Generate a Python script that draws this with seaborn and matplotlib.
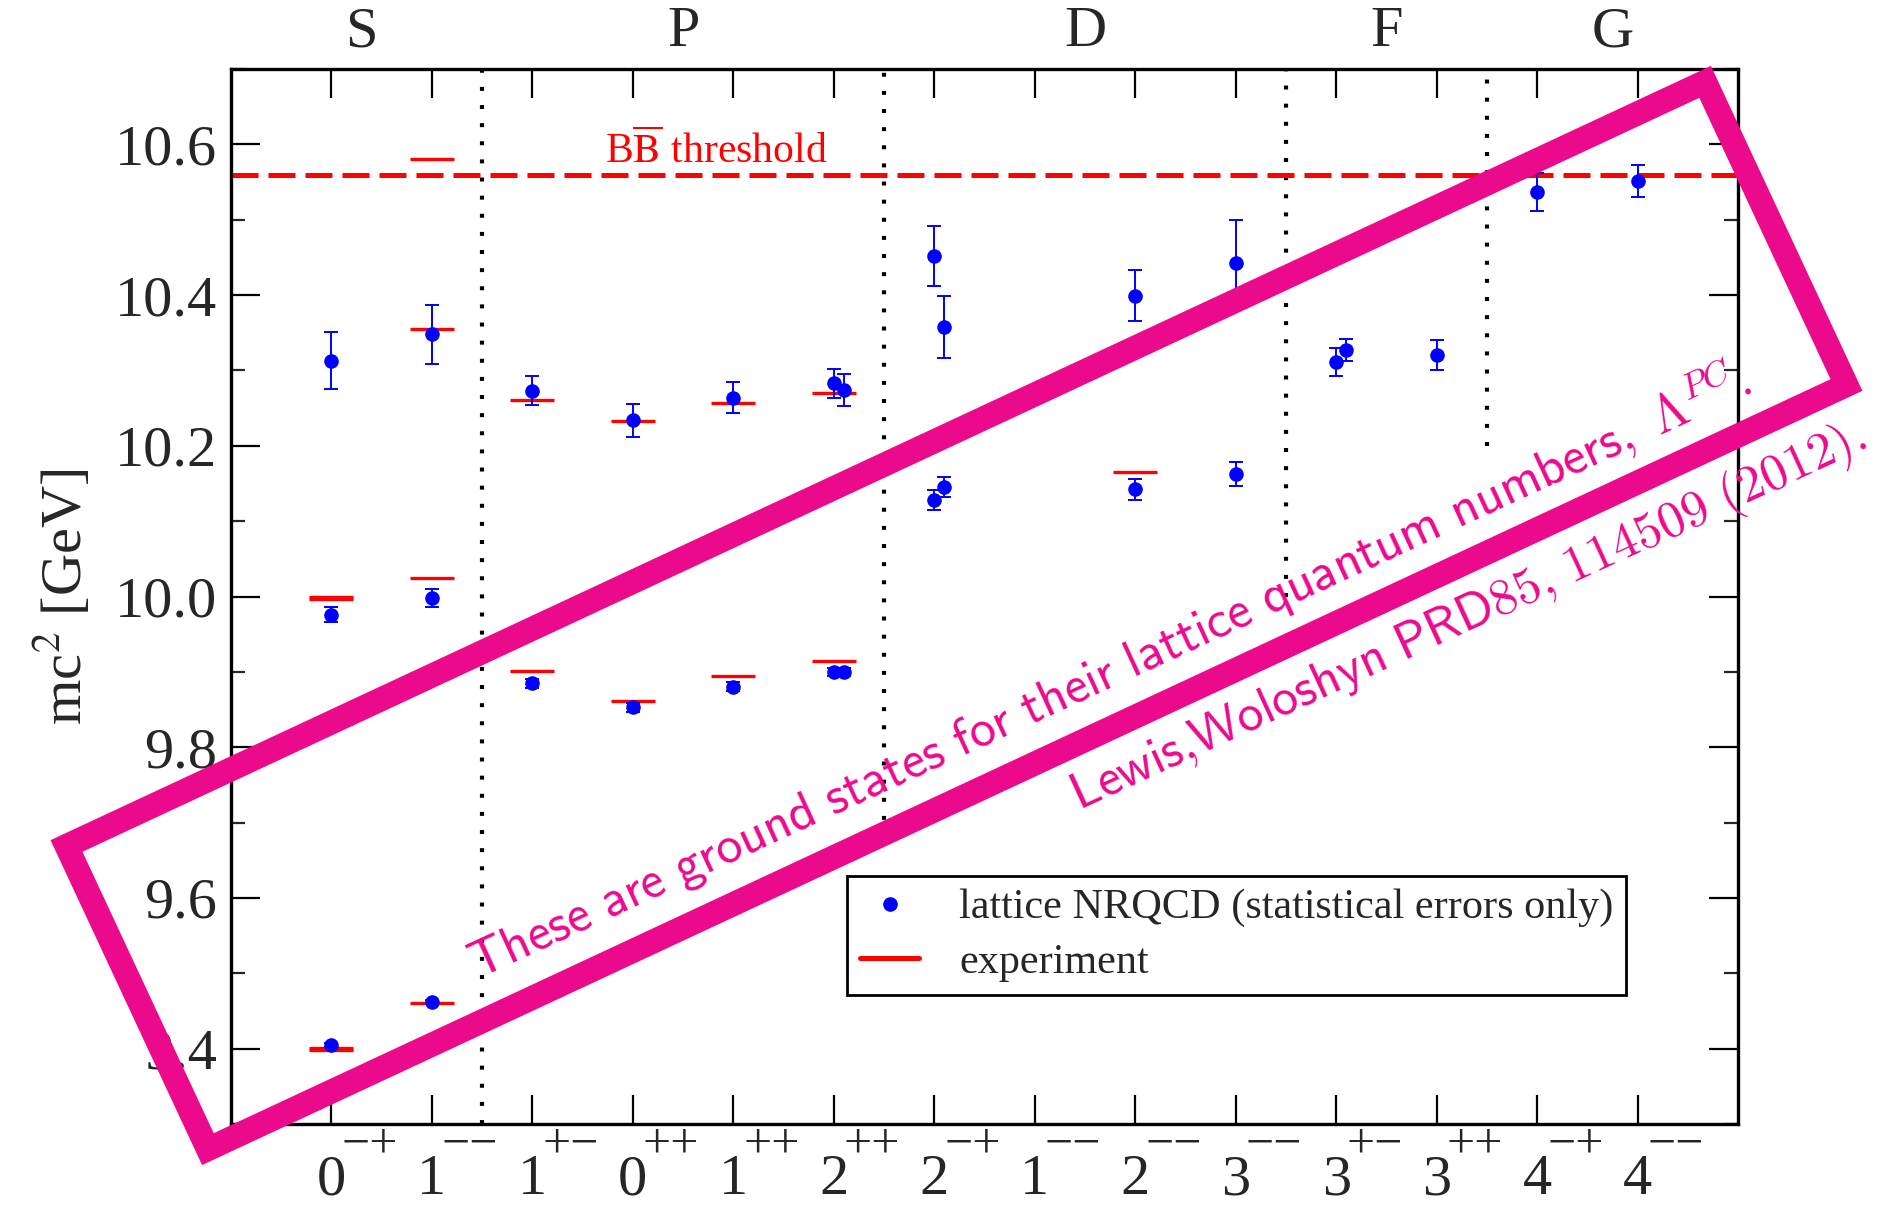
import numpy as np
import pandas as pd
import matplotlib
matplotlib.use('Agg')
import matplotlib.pyplot as plt
import matplotlib.patches as mpatches
import matplotlib.transforms as mtransforms
from matplotlib.lines import Line2D
from matplotlib.ticker import FixedLocator, MultipleLocator
import seaborn as sns

# ---------------- data ----------------
j_values = ['0', '1', '1', '0', '1', '2', '2', '1', '2', '3', '3', '3', '4', '4']
pc_values = ['-+', '--', '+-', '++', '++', '++', '-+', '--', '--', '--', '+-', '++', '-+', '--']
wave_labels = ['S', 'P', 'D', 'F', 'G']
wave_centers = [0.3, 3.5, 7.5, 10.5, 12.75]
wave_bounds = [1.5, 5.5, 9.5, 11.5]
wave_bound_bottom = [9.3, 9.68, 10.0, 10.2]
y_ticks = [9.4, 9.6, 9.8, 10.0, 10.2, 10.4, 10.6]

# lattice NRQCD results (category index, irrep index, mass, statistical error)
lat_cat = [0, 0, 0, 1, 1, 1, 2, 2, 3, 3, 4, 4, 5, 5, 5, 5, 6, 6, 6, 6, 8, 8, 9, 9, 10, 10, 11, 12, 13]
lat_irrep = [0, 0, 0, 0, 0, 0, 0, 0, 0, 0, 0, 0, 0, 1, 0, 1, 0, 1, 0, 1, 0, 0, 0, 0, 0, 1, 0, 0, 0]
lat_mass = [9.405, 9.976, 10.313, 9.462, 9.998, 10.348, 9.885, 10.273, 9.853, 10.234,
            9.880, 10.264, 9.900, 9.900, 10.283, 10.274, 10.128, 10.145, 10.452, 10.358,
            10.142, 10.399, 10.162, 10.443, 10.311, 10.327, 10.320, 10.537, 10.551]
lat_err = [0.003, 0.010, 0.038, 0.002, 0.012, 0.039, 0.006, 0.019, 0.006, 0.022,
           0.006, 0.020, 0.005, 0.005, 0.019, 0.021, 0.013, 0.013, 0.040, 0.041,
           0.014, 0.034, 0.016, 0.056, 0.019, 0.015, 0.020, 0.025, 0.021]

# experiment
exp_cat = [0, 0, 0, 0, 1, 1, 1, 1, 2, 2, 3, 3, 4, 4, 5, 5, 8]
exp_mass = [9.398, 9.401, 9.997, 10.000, 9.461, 10.024, 10.355, 10.580,
            9.901, 10.261, 9.861, 10.233, 9.894, 10.257, 9.914, 10.270, 10.165]

threshold = 10.559

# ---------------- style ----------------
IRREP_SHIFT = 0.1
BLUE = '#0000FF'
RED = '#FF0000'
PINK = '#EC0A8C'

sns.set_style('ticks')
plt.rcParams['font.family'] = ['Liberation Serif', 'DejaVu Serif']
plt.rcParams['mathtext.fontset'] = 'stix'

W, H = 1889, 1209
fig = plt.figure(figsize=(W / 100, H / 100), dpi=100)
fig.patch.set_facecolor('white')
ax = fig.add_axes([231 / W, 1 - 1124 / H, (1738 - 231) / W, (1124 - 69) / H])
ax.set_facecolor('white')

lat_df = pd.DataFrame({'x': np.array(lat_cat) + IRREP_SHIFT * np.array(lat_irrep),
                       'mass': lat_mass, 'err': lat_err})
exp_df = pd.DataFrame({'x': exp_cat, 'mass': exp_mass})

# wave separators
for xb, yb in zip(wave_bounds, wave_bound_bottom):
    ax.plot([xb, xb], [yb, 10.7], color='black', lw=3.0, linestyle=(0, (0.95, 3.4)),
            dash_capstyle='butt', zorder=1)

# threshold
ax.axhline(threshold, color=RED, lw=3.6, linestyle=(0, (5.4, 2.0)), zorder=2)

# experiment
sns.scatterplot(data=exp_df, x='x', y='mass', marker='_', s=31 ** 2, color=RED,
                linewidth=2.4, ax=ax, zorder=3, legend=False)

# lattice
ax.errorbar(lat_df['x'], lat_df['mass'], yerr=lat_df['err'], fmt='none', ecolor=BLUE,
            elinewidth=1.4, capsize=5, capthick=1.4, zorder=4)
sns.scatterplot(data=lat_df, x='x', y='mass', marker='o', s=10.5 ** 2, color=BLUE,
                edgecolor=BLUE, linewidth=0, ax=ax, zorder=5, legend=False)

# axes
ax.set_xlim(-1, 14)
ax.set_ylim(9.3, 10.7)
ax.set_xlabel('')
ax.xaxis.set_major_locator(FixedLocator(range(len(j_values))))
ax.set_xticklabels([''] * len(j_values))
ax.yaxis.set_major_locator(FixedLocator(y_ticks))
ax.set_yticklabels([f'{v:.1f}' for v in y_ticks])
ax.yaxis.set_minor_locator(MultipleLocator(0.1))
ax.tick_params(axis='both', which='major', direction='in', length=21, width=1.6,
               top=True, right=True, labelsize=42, color='black')
ax.tick_params(axis='y', which='major', pad=10)
ax.tick_params(axis='y', which='minor', direction='in', length=10, width=1.6,
               left=True, right=True)
for sp in ax.spines.values():
    sp.set_linewidth(2.4)
    sp.set_color('black')
    sp.set_visible(True)

trans = mtransforms.blended_transform_factory(ax.transData, ax.transAxes)

# x tick labels: J with PC superscript
for i, (j, pc) in enumerate(zip(j_values, pc_values)):
    ax.text(i, -0.0664, j, transform=trans, ha='center', va='baseline', fontsize=42)
    ax.text(i + 0.1, -0.0322, pc.replace('-', '\u2212'), transform=trans,
            ha='left', va='baseline', fontsize=36)

ax.set_ylabel(r'mc$^2$ [GeV]', fontsize=42)
ax.yaxis.set_label_coords(-0.091, 0.5)

for lab, c in zip(wave_labels, wave_centers):
    ax.text(c, 1.035, lab, transform=trans, ha='center', va='center', fontsize=42)

ax.text(3.83, 10.575, r'B$\overline{\mathrm{B}}$ threshold', color=RED, fontsize=30,
        ha='center', va='baseline', zorder=6)

handles = [Line2D([], [], marker='o', ls='none', color=BLUE, markersize=9.5),
           Line2D([], [], color=RED, lw=3.6)]
leg = ax.legend(handles, ['lattice NRQCD (statistical errors only)', 'experiment'],
                loc='upper left', bbox_to_anchor=(0.409, 0.235), fontsize=30.4,
                frameon=True, fancybox=False, edgecolor='black', framealpha=1,
                borderpad=0.3, labelspacing=0.38, handlelength=1.4, handletextpad=0.95,
                borderaxespad=0)
leg.get_frame().set_linewidth(2)
leg.set_zorder(7)

# ---------------- pink annotation ----------------
ang = np.deg2rad(25.0)
cx, cy = 956.5, 615.5          # pixel centre (top-down)
a, b = 1808 / 2, 334.5 / 2
u = np.array([np.cos(ang), -np.sin(ang)])
v = np.array([np.sin(ang), np.cos(ang)])
c = np.array([cx, cy])
corners = [c - a * u - b * v, c + a * u - b * v, c + a * u + b * v, c - a * u + b * v]
pts = [(p[0] / W, 1 - p[1] / H) for p in corners]
box = mpatches.Polygon(pts, closed=True, fill=False, edgecolor=PINK, linewidth=17.3,
                       joinstyle='miter', transform=fig.transFigure, zorder=10)
fig.add_artist(box)

line1 = (r'$\mathsf{These\ are\ ground\ states\ for\ their\ lattice\ quantum\ numbers,}'
         r'\ \Lambda^{PC}\mathsf{.}$')
line2 = r'$\mathsf{Lewis{,}Woloshyn\ PRD85{,}\ 114509\ (2012).}$'
renderer = fig.canvas.get_renderer()
for txt, (px, py), target in [(line1, (478, 980), 1406), (line2, (1079, 810), 870)]:
    t = fig.text(px / W, 1 - py / H, txt, color=PINK, fontsize=30, math_fontfamily='cm',
                 ha='left', va='baseline', rotation=0, rotation_mode='anchor', zorder=11)
    w = t.get_window_extent(renderer=renderer).width
    t.set_fontsize(30 * target / w)
    t.set_rotation(24.7)

fig.savefig('out.png', dpi=100, facecolor='white')
